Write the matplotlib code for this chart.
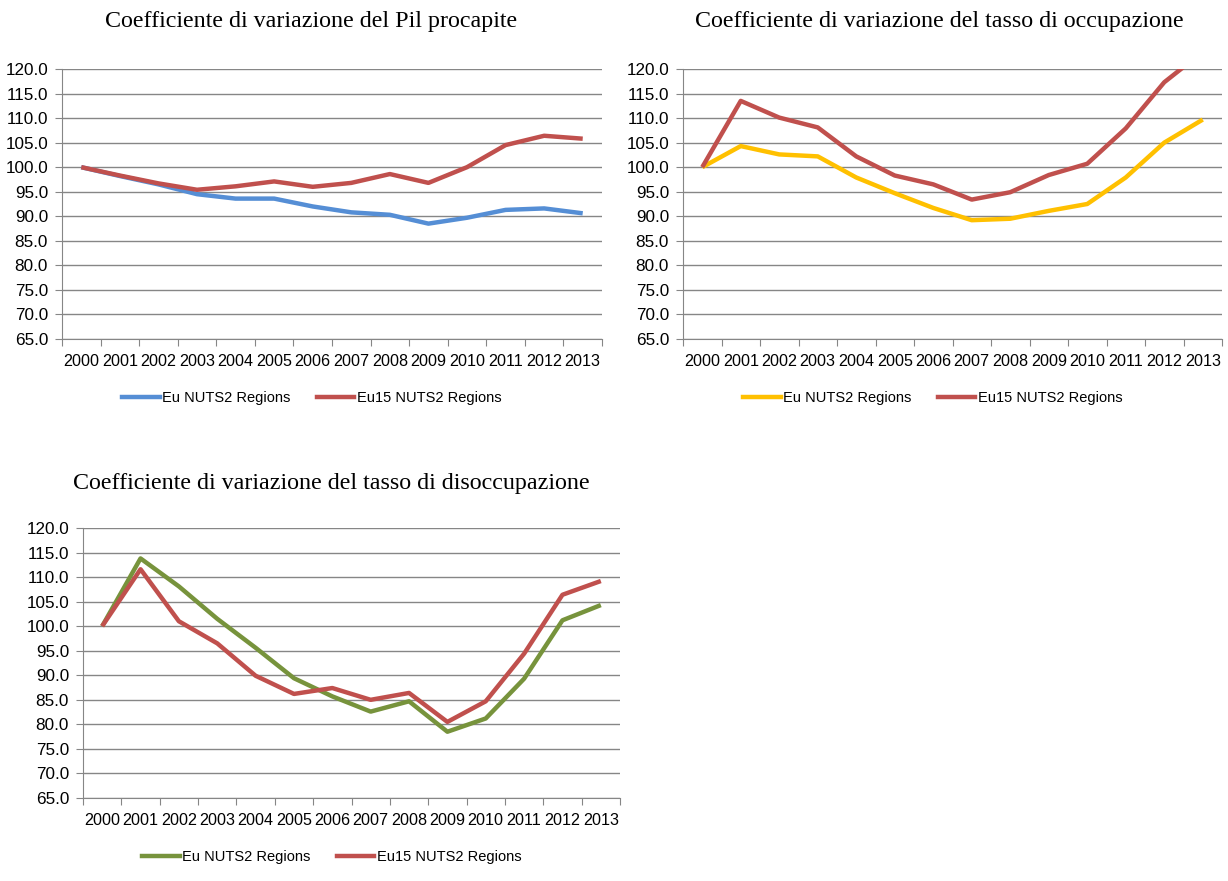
import matplotlib
matplotlib.use("Agg")
import matplotlib.pyplot as plt
from matplotlib.lines import Line2D

years = [str(y) for y in range(2000, 2014)]

pil_eu = [100.0, 98.2, 96.5, 94.5, 93.6, 93.6, 92.0, 90.8, 90.3, 88.5, 89.7, 91.3, 91.6, 90.6]
pil_eu15 = [100.0, 98.3, 96.7, 95.4, 96.1, 97.1, 96.0, 96.8, 98.6, 96.8, 100.0, 104.5, 106.4, 105.8]

occ_eu = [100.0, 104.3, 102.6, 102.2, 97.9, 94.7, 91.7, 89.2, 89.5, 91.1, 92.5, 97.9, 105.0, 109.7]
occ_eu15 = [100.0, 113.5, 110.1, 108.1, 102.2, 98.3, 96.5, 93.4, 94.9, 98.4, 100.7, 107.9, 117.3, 123.5]

dis_eu = [100.0, 113.8, 108.1, 101.5, 95.6, 89.4, 85.7, 82.6, 84.7, 78.5, 81.2, 89.3, 101.2, 104.3]
dis_eu15 = [100.0, 111.6, 101.0, 96.5, 89.9, 86.2, 87.4, 85.0, 86.4, 80.5, 84.7, 94.4, 106.4, 109.2]

labels = ["Eu NUTS2 Regions", "Eu15 NUTS2 Regions"]

W, H = 1228, 881
RED = "#C0504D"
GRID = "#868686"
SANS = ["Liberation Sans", "DejaVu Sans"]
SERIF = ["Liberation Serif", "DejaVu Serif"]

fig = plt.figure(figsize=(W / 100, H / 100), dpi=100)


def px_axes(left, top, right, bottom):
    return fig.add_axes([left / W, 1 - bottom / H, (right - left) / W, (bottom - top) / H])


def panel(box, title, title_xy, eu, eu15, eu_color, legend_y, legend_x):
    ax = px_axes(*box)
    x = list(range(len(years)))
    ax.plot(x, eu, color=eu_color, lw=3.2, solid_capstyle="butt", zorder=3)
    ax.plot(x, eu15, color=RED, lw=3.2, solid_capstyle="butt", zorder=4)

    ax.set_xlim(-0.5, len(years) - 0.5)
    ax.set_ylim(65, 120)
    yt = [65 + 5 * i for i in range(12)]
    ax.set_yticks(yt)
    ax.set_yticklabels([f"{v:.1f}" for v in yt], fontsize=12.3, family=SANS)
    ax.yaxis.grid(True, color=GRID, lw=1)
    ax.set_axisbelow(True)

    # Excel-style category axis: ticks between categories, labels centred
    ax.set_xticks([i - 0.5 for i in range(len(years) + 1)])
    ax.set_xticklabels([])
    ax.set_xticks(x, minor=True)
    ax.set_xticklabels(years, minor=True, fontsize=11.6, family=SANS)
    ax.tick_params(axis="x", which="minor", length=0, pad=11)
    ax.tick_params(axis="x", which="major", length=5, color=GRID)
    ax.tick_params(axis="y", length=5, color=GRID, pad=5)

    for s in ("top", "right"):
        ax.spines[s].set_visible(False)
    for s in ("left", "bottom"):
        ax.spines[s].set_color(GRID)

    fig.text(title_xy[0] / W, 1 - title_xy[1] / H, title, ha="center", va="center",
             fontsize=17.3, family=SERIF)

    handles = [Line2D([], [], color=eu_color, lw=3.2), Line2D([], [], color=RED, lw=3.2)]
    fig.legend(handles, labels, loc="center left", ncol=2, frameon=False,
               bbox_to_anchor=(legend_x / W, 1 - legend_y / H),
               prop={"family": SANS, "size": 10.5},
               handlelength=2.6, handletextpad=0.15, columnspacing=1.8, borderaxespad=0)
    return ax


panel((62, 69, 602, 339), "Coefficiente di variazione del Pil procapite", (311, 22),
      pil_eu, pil_eu15, "#558ED5", 398, 116)
panel((683, 69, 1222, 339), "Coefficiente di variazione del tasso di occupazione", (939, 22),
      occ_eu, occ_eu15, "#FFC000", 398, 737)
panel((83, 528, 620, 798), "Coefficiente di variazione del tasso di disoccupazione", (331, 484),
      dis_eu, dis_eu15, "#77933C", 857, 136)

fig.savefig("out.png", dpi=100)
